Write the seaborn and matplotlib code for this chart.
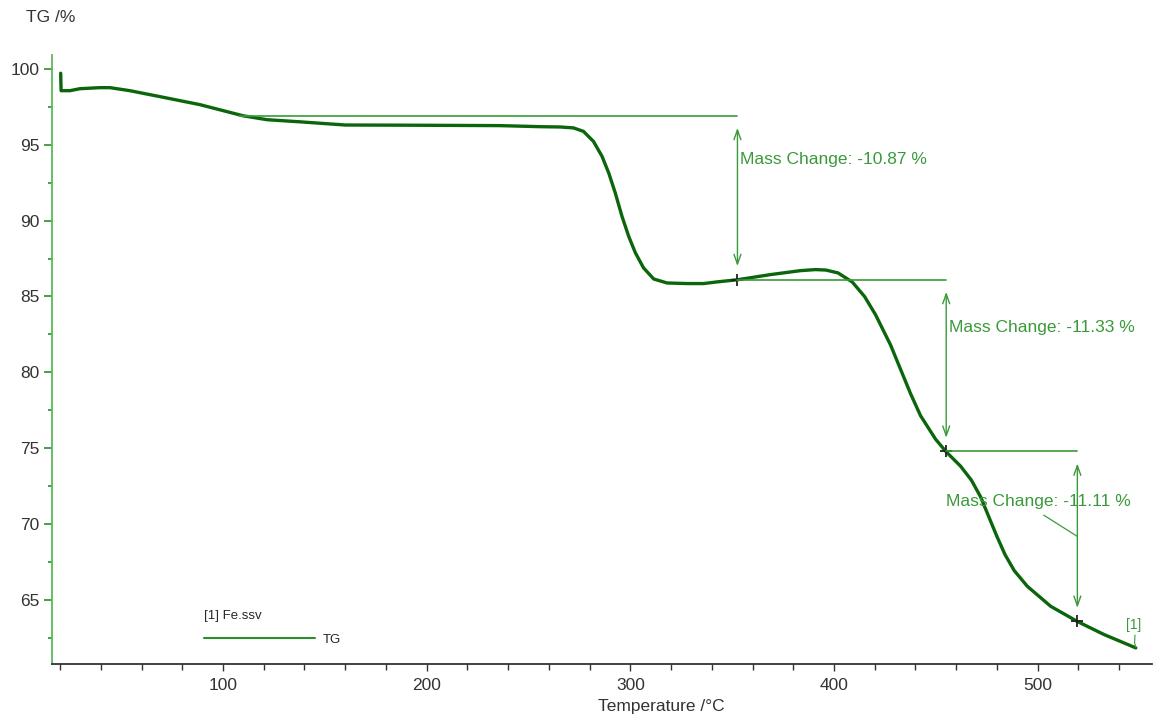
import pandas as pd
import matplotlib
matplotlib.use("Agg")
import matplotlib.pyplot as plt
from matplotlib.ticker import MultipleLocator
import seaborn as sns

# TG curve
temperature = [20.3, 20.5, 24.8, 29.7, 39.6, 44.5, 54.3, 69.0, 88.7, 109.8,
               121.6, 137.8, 160.0, 187.0, 236.0, 255.8, 265.6, 272.1, 277.0,
               281.9, 286.1, 289.4, 292.6, 295.9, 299.2, 302.5, 306.5, 311.5,
               318.0, 327.9, 336.0, 342.6, 352.6, 368.8, 383.5, 390.9, 396.0,
               402.0, 409.0, 415.0, 420.4, 427.8, 432.7, 437.6, 442.5, 449.9,
               455.1, 462.2, 467.5, 472.0, 476.0, 480.0, 484.0, 488.5, 494.9,
               506.4, 519.5, 532.6, 548.2]
mass = [99.7, 98.55, 98.55, 98.68, 98.75, 98.75, 98.55, 98.16, 97.63, 96.9,
        96.64, 96.5, 96.29, 96.28, 96.25, 96.18, 96.16, 96.1, 95.87,
        95.21, 94.23, 93.13, 91.82, 90.28, 88.96, 87.87, 86.88, 86.15,
        85.89, 85.85, 85.85, 85.96, 86.1, 86.44, 86.7, 86.77, 86.74,
        86.55, 85.95, 85.0, 83.8, 81.8, 80.2, 78.6, 77.15, 75.6,
        74.77, 73.82, 72.9, 71.8, 70.5, 69.2, 68.0, 66.95, 65.92,
        64.6, 63.6, 62.74, 61.86]

# mass-change steps
step_start = [108.0, 352.6, 455.1]
step_end = [352.6, 455.1, 519.5]
step_top = [96.9, 86.1, 74.8]
step_bottom = [86.1, 74.8, 63.6]
step_labels = ["Mass Change: -10.87 %", "Mass Change: -11.33 %", "Mass Change: -11.11 %"]

df = pd.DataFrame({"T": temperature, "TG": mass})

sns.set_style("white")
plt.rcParams["font.family"] = ["Liberation Sans", "DejaVu Sans"]

CURVE = "#0b650b"
ANNOT = "#3a9a3a"
SPINE_G = "#5cb85c"

fig = plt.figure(figsize=(11.54, 7.19), dpi=100)
ax = fig.add_axes([0.045, 0.0765, 0.953, 0.847])

sns.lineplot(data=df, x="T", y="TG", ax=ax, color=CURVE, linewidth=2.4,
             sort=False, estimator=None, label="TG")

# baselines, arrows, crosses, labels
for i in range(3):
    ax.plot([step_start[i], step_end[i]], [step_top[i], step_top[i]],
            color=ANNOT, linewidth=1.2)
    ax.annotate("", xy=(step_end[i], step_bottom[i] + 0.9),
                xytext=(step_end[i], step_top[i] - 0.8),
                arrowprops=dict(arrowstyle="<->,head_length=0.7,head_width=0.25",
                                color=ANNOT, lw=1.0, shrinkA=0, shrinkB=0))
    ax.plot(step_end[i], step_bottom[i], marker="+", color="#222222",
            markersize=9, markeredgewidth=1.3)

ax.text(354.0, 94.0, step_labels[0], color=ANNOT, fontsize=12.5, va="center")
ax.text(456.3, 82.95, step_labels[1], color=ANNOT, fontsize=12.5, va="center")
ax.text(455.0, 71.5, step_labels[2], color=ANNOT, fontsize=12.5, va="center")
ax.plot([503.0, 519.5], [70.6, 69.2], color=ANNOT, linewidth=0.9)

ax.text(547.0, 63.4, "[1]", color=ANNOT, fontsize=10, ha="center", va="center")
ax.plot([547.8, 547.6, 548.2], [62.7, 62.2, 61.9], color=ANNOT, linewidth=0.8)

ax.set_xlim(16, 556)
ax.set_ylim(60.8, 100.9)
ax.xaxis.set_major_locator(MultipleLocator(100))
ax.xaxis.set_minor_locator(MultipleLocator(20))
ax.yaxis.set_major_locator(MultipleLocator(5))
ax.yaxis.set_minor_locator(MultipleLocator(2.5))
ax.set_xlabel("")
ax.set_ylabel("")

for s in ["top", "right"]:
    ax.spines[s].set_visible(False)
ax.spines["left"].set_color(SPINE_G)
ax.spines["left"].set_linewidth(1.3)
ax.spines["bottom"].set_color("#333333")
ax.spines["bottom"].set_linewidth(1.3)

ax.tick_params(axis="y", which="major", direction="out", length=6, width=1.2,
               color="#2e8b2e", labelsize=12.5, labelcolor="#333333", pad=3, left=True)
ax.tick_params(axis="y", which="minor", direction="out", length=3, width=1.2,
               color="#2e8b2e", left=True)
ax.tick_params(axis="x", which="major", direction="out", length=5, width=1.0,
               color="#333333", labelsize=12.5, labelcolor="#333333", pad=5, bottom=True)
ax.tick_params(axis="x", which="minor", direction="out", length=4, width=1.0,
               color="#333333", bottom=True)

leg = ax.legend(loc="lower left", bbox_to_anchor=(0.138, 0.03), frameon=False,
                title="[1] Fe.ssv", alignment="left", fontsize=9.5,
                title_fontsize=9.5, handlelength=8.4, borderpad=0,
                borderaxespad=0, handletextpad=0.6, labelspacing=0.3)
leg._legend_box.sep = 8
for line in leg.get_lines():
    line.set_linewidth(1.5)
    line.set_color("#2e8b2e")

fig.text(0.0225, 0.975, "TG /%", fontsize=12.5, color="#333333", va="center")
fig.text(0.573, 0.017, "Temperature /°C", fontsize=12.5, color="#333333",
         ha="center", va="center")

fig.savefig("out.png", dpi=100)
